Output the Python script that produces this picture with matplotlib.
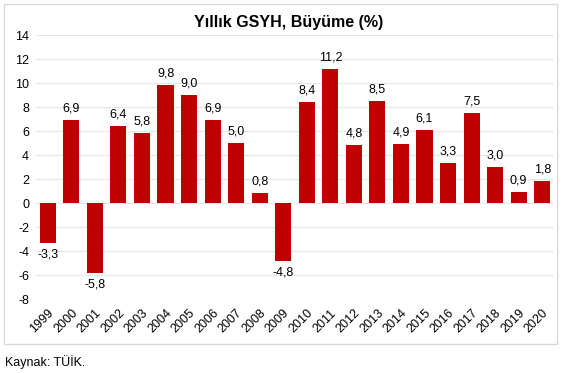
import matplotlib
matplotlib.use("Agg")
import matplotlib.pyplot as plt
from matplotlib.patches import Rectangle

plt.rcParams['font.family'] = ['Liberation Sans', 'DejaVu Sans']

years = [str(y) for y in range(1999, 2021)]
growth = [-3.3, 6.9, -5.8, 6.4, 5.8, 9.8, 9.0, 6.9, 5.0, 0.8, -4.8,
          8.4, 11.2, 4.8, 8.5, 4.9, 6.1, 3.3, 7.5, 3.0, 0.9, 1.8]
title = "Yıllık GSYH, Büyüme (%)"
source = "Kaynak: TÜİK."

W, H = 574, 373
fig = plt.figure(figsize=(W / 100, H / 100), dpi=100)

# outer chart border
fig.patches.append(Rectangle((4 / W, 1 - 344 / H), (557 - 4) / W, (344 - 4) / H,
                             transform=fig.transFigure, fill=False,
                             edgecolor='#d9d9d9', linewidth=1.0))

ax = fig.add_axes([36 / W, 1 - 299 / H, (554 - 36) / W, (299 - 35) / H])
x = range(len(years))
ax.bar(x, growth, width=0.68, color='#C00000', zorder=3)
ax.set_xlim(-0.5, len(years) - 0.5)
ax.set_ylim(-8, 14)
ax.set_yticks(range(-8, 15, 2))
ax.set_yticklabels([str(v) for v in range(-8, 15, 2)], fontsize=9)
ax.set_xticks(list(x))
ax.set_xticklabels(years, rotation=45, ha='right', rotation_mode='anchor', fontsize=9)
ax.tick_params(axis='both', length=0, pad=5)
ax.tick_params(axis='x', pad=6)
ax.grid(axis='y', color='#e6e6e6', linewidth=0.8, zorder=0)
for s in ax.spines.values():
    s.set_visible(False)

for xi, v in zip(x, growth):
    lab = f"{v:.1f}".replace('.', ',')
    if v >= 0:
        ax.annotate(lab, (xi, v), xytext=(0, 4), textcoords='offset points',
                    ha='center', va='bottom', fontsize=9)
    else:
        ax.annotate(lab, (xi, v), xytext=(0, -4), textcoords='offset points',
                    ha='center', va='top', fontsize=9)

fig.text(0.5 * (4 + 574) / W, 1 - 22 / H, title, ha='center', va='center',
         fontsize=11.5, fontweight='bold')
fig.text(5 / W, 1 - 362 / H, source, ha='left', va='center', fontsize=9)

fig.savefig('out.png', dpi=100)
